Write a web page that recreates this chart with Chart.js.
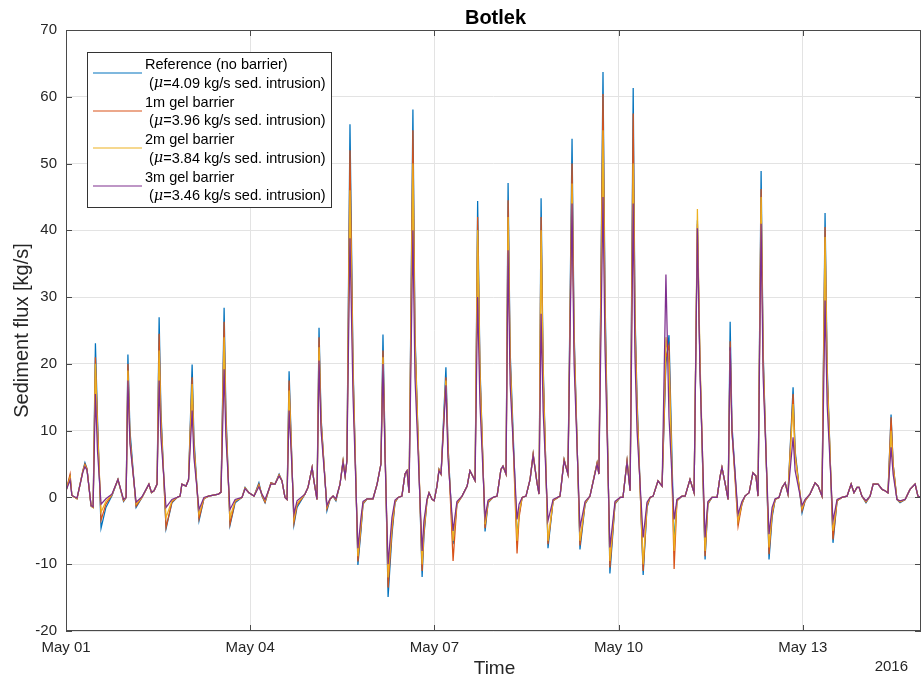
<!DOCTYPE html>
<html>
<head>
<meta charset="utf-8">
<title>Botlek</title>
<script src="https://cdn.jsdelivr.net/npm/chart.js@4/dist/chart.umd.min.js"></script>
<style>
  html, body { margin: 0; padding: 0; background: #ffffff; }
  #wrap { width: 922px; height: 682px; }
</style>
</head>
<body>
<div id="wrap"><canvas id="chart" width="922" height="682"></canvas></div>
<script>
// Time in hours since 2016-05-01 00:00
const hours = [
  0, 1.6, 2.3, 4.3, 6.6, 7.4, 8.2, 9.8, 10.6,
  11.5, 12.3, 13.7, 15.6, 18.0, 20.3, 22.5, 23.5,
  24.2, 25.0, 27.4, 29.7, 32.4, 33.4, 34.4, 35.6,
  36.4, 37.1, 39.1, 41.4, 43.4, 44.6, 45.3, 46.9, 47.9,
  49.3, 50.0, 52.0, 53.9, 55.7, 59.6, 60.6,
  61.8, 62.5, 64.1, 66.1, 68.8, 70.0, 71.5, 73.5, 75.4, 76.6, 77.8, 80.1, 81.7, 83.3, 84.4, 85.6, 86.4,
  87.2, 88.0, 89.1, 90.3, 93.4, 94.6, 96.2, 96.9, 98.1,
  98.9, 99.7, 102.0, 103.2, 104.4, 105.5, 107.1, 108.3, 109.1, 109.8,
  111.0, 112.2, 114.1, 115.3, 116.1, 117.7, 120.0, 121.6, 123.1,
  123.9, 124.7, 125.9, 127.4, 128.6, 129.8, 131.3, 132.5, 133.3, 134.1,
  135.6, 136.4, 139.2, 139.9, 141.1, 141.9, 143.1, 143.9, 145.0, 145.8, 146.6,
  148.5, 149.3, 151.3, 152.8, 154.8, 156.8, 157.9, 159.9,
  160.9, 161.8, 163.8, 165.0, 166.9, 168.5, 170.0, 170.8, 172.0,
  172.8, 173.6, 176.3, 177.1, 178.3, 179.8, 181.4, 182.6, 184.1, 184.9,
  185.7, 186.5, 188.4, 190.4, 193.1, 194.7, 196.2,
  197.8, 198.6, 200.9, 202.9, 204.8, 207.6, 208.3,
  209.9, 210.7, 212.6, 214.6, 216.6, 217.7, 219.3, 220.5,
  221.7, 222.4, 223.2, 225.6, 227.1, 228.3, 229.5, 231.4, 233.0,
  234.5, 235.7, 237.7, 238.8, 240.8, 242.0, 243.9, 245.5,
  246.8, 247.8, 249.8, 250.9, 252.5, 254.5, 255.6, 256.4, 257.6, 258.8,
  259.6, 260.3, 262.7, 264.2, 265.4, 267.0, 268.5, 269.7, 270.5,
  271.7, 272.5, 274.8, 276.0, 277.2, 278.7, 279.9, 281.1, 282.2,
  284.2, 285.0, 287.7, 288.9, 290.8, 292.8, 294.0, 295.5,
  296.7, 297.5, 299.8, 301.4, 303.3, 305.3, 306.9, 308.0, 309.2, 310.0, 311.1, 312.7, 314.3, 315.5, 317.4, 319.0, 320.1, 321.3,
  322.5, 323.3, 324.8, 326.0, 328.0, 329.9, 331.9, 333.0, 334.2
];

// Sediment flux [kg/s], no barrier
const reference = [
  1.0, 3.2, 0.3, -0.2, 4.0, 5.2, 4.3, -1.3, -1.5,
  23.1, 12.0, -4.6, -1.5, 0.3, 2.7, -0.6, 0.0,
  21.4, 10.0, -1.5, 0.0, 2.0, 0.7, 1.0, 2.0,
  27.0, 13.0, -4.7, -0.8, 0.0, 0.2, 2.0, 1.7, 2.7,
  19.9, 9.0, -3.5, -0.2, 0.2, 0.5, 0.8,
  28.4, 13.0, -4.2, -0.8, 0.0, 1.5, 0.7, 0.2, 2.2, 0.2, -0.8, 2.2, 2.0, 3.5, 2.5, 0.0, -0.3,
  18.9, 9.0, -4.1, -1.5, 0.5, 1.5, 4.5, 2.5, -0.3,
  25.4, 12.0, -2.0, -0.3, 0.2, -0.5, 2.0, 5.5, 3.2, 5.5,
  55.9, 20.0, -10.1, -5.0, -1.0, -0.2, -0.2, 2.0, 5.0,
  24.4, 8.0, -14.9, -5.6, -0.8, 0.0, 0.2, 3.5, 4.0, 0.7,
  58.1, 25.0, -11.9, -5.8, -0.5, 0.7, -0.3, -0.5, 1.7, 4.2, 3.5,
  19.5, 8.0, -7.0, -1.0, 0.2, 1.7, 4.0, 2.5,
  44.4, 20.0, -5.1, -0.8, 0.0, 0.2, 4.2, 4.7, 3.5,
  47.1, 22.0, -6.2, -2.5, 0.0, 0.2, 2.7, 6.5, 2.2, 0.5,
  44.8, 20.0, -7.6, -0.5, 0.2, 5.7, 3.5,
  53.7, 25.0, -7.8, -1.0, 0.2, 5.2, 3.5,
  63.7, 30.0, -11.4, -1.0, 0.0, 0.0, 5.5, 1.0,
  61.3, 28.0, 15.0, -11.6, -1.5, 0.0, 0.2, 2.5, 1.7,
  20.0, 24.3, -6.9, -0.5, 0.2, 0.2, 2.7, 0.7,
  41.5, 20.0, -9.3, -1.0, 0.0, 0.0, 3.0, 4.5, 2.2, -0.3,
  26.3, 11.0, -3.6, -1.0, 0.2, 0.7, 3.7, 3.2, 0.2,
  48.9, 22.0, -9.3, -3.0, -0.3, 0.0, 1.5, 2.2, 0.5,
  16.5, 7.0, -2.3, -0.5, 0.5, 2.2, 1.7, 0.2,
  42.6, 20.0, -6.8, -0.5, 0.0, 0.2, 2.0, 0.7, 1.5, 1.5, 0.2, -0.8, 0.2, 2.0, 2.0, 1.2, 1.0, 0.7,
  12.4, 5.0, -0.3, -0.8, -0.3, 1.2, 2.0, 0.2, 0.0
];

// 1 m gel barrier
const gel1m = [
  1.0, 3.5, 0.3, -0.2, 4.0, 5.0, 4.3, -1.3, -1.5,
  21.0, 11.0, -3.4, -1.0, 0.4, 2.7, -0.5, 0.0,
  20.0, 9.0, -1.3, 0.0, 2.0, 0.7, 1.0, 2.0,
  24.5, 12.0, -4.5, -0.7, 0.0, 0.2, 2.0, 1.7, 2.7,
  18.0, 8.0, -3.2, -0.2, 0.2, 0.5, 0.8,
  26.3, 12.0, -4.0, -0.6, 0.0, 1.4, 0.7, 0.2, 2.0, 0.3, -0.7, 2.2, 2.0, 3.4, 2.5, 0.0, -0.3,
  17.5, 8.5, -3.8, -1.2, 0.5, 1.5, 4.5, 2.5, -0.3,
  24.0, 11.5, -1.7, -0.3, 0.2, -0.4, 2.0, 5.5, 3.2, 5.5,
  52.0, 19.0, -9.6, -4.5, -0.9, -0.2, -0.2, 2.0, 5.0,
  22.0, 7.5, -13.5, -5.0, -0.7, 0.0, 0.2, 3.5, 4.0, 0.7,
  55.0, 24.0, -11.0, -5.3, -0.5, 0.7, -0.3, -0.5, 1.7, 4.2, 3.5,
  18.0, 8.0, -9.5, -1.0, 0.2, 1.7, 4.0, 2.5,
  42.0, 19.0, -4.6, -0.7, 0.0, 0.2, 4.2, 4.7, 3.5,
  44.5, 21.0, -8.4, -3.0, 0.0, 0.2, 2.7, 6.5, 2.2, 0.5,
  42.0, 19.0, -7.0, -0.5, 0.2, 5.7, 3.5,
  50.0, 24.0, -7.2, -0.9, 0.2, 5.2, 3.5,
  60.4, 28.0, -10.5, -0.9, 0.0, 0.0, 5.5, 1.0,
  57.5, 27.0, 14.0, -11.0, -1.3, 0.0, 0.2, 2.5, 1.7,
  21.0, 22.8, -10.7, -0.5, 0.2, 0.2, 2.7, 0.7,
  41.0, 20.0, -8.8, -0.9, 0.0, 0.0, 3.0, 4.5, 2.2, -0.3,
  23.4, 10.0, -4.3, -1.0, 0.2, 0.7, 3.7, 3.2, 0.2,
  46.2, 21.0, -8.5, -2.6, -0.3, 0.0, 1.5, 2.2, 0.5,
  15.5, 6.5, -2.0, -0.5, 0.5, 2.2, 1.7, 0.2,
  40.5, 19.0, -6.3, -0.5, 0.0, 0.2, 2.0, 0.7, 1.5, 1.5, 0.2, -0.7, 0.2, 2.0, 2.0, 1.2, 1.0, 0.7,
  12.0, 5.0, -0.3, -0.7, -0.3, 1.2, 2.0, 0.2, 0.0
];

// 2 m gel barrier
const gel2m = [
  1.0, 3.0, 0.3, -0.2, 3.9, 4.8, 4.2, -1.2, -1.5,
  20.0, 10.0, -2.2, -0.6, 0.4, 2.7, -0.4, 0.0,
  19.0, 8.5, -1.0, 0.0, 2.0, 0.8, 1.0, 2.0,
  22.0, 11.0, -3.0, -0.5, 0.0, 0.2, 2.0, 1.7, 2.7,
  17.0, 7.5, -2.5, -0.1, 0.2, 0.5, 0.8,
  24.0, 11.0, -3.0, -0.5, 0.0, 1.4, 0.7, 0.2, 1.8, 0.4, -0.5, 2.0, 2.0, 3.3, 2.5, 0.0, -0.3,
  16.0, 8.0, -3.2, -0.9, 0.5, 1.5, 4.5, 2.5, -0.3,
  22.5, 11.0, -1.4, -0.2, 0.2, -0.3, 2.0, 5.4, 3.2, 5.5,
  46.0, 18.0, -8.8, -4.0, -0.8, -0.2, -0.2, 2.0, 5.0,
  21.0, 7.0, -12.0, -4.2, -0.6, 0.0, 0.2, 3.5, 4.0, 0.7,
  50.0, 23.0, -10.0, -4.6, -0.4, 0.7, -0.3, -0.5, 1.7, 4.1, 3.5,
  17.5, 7.0, -6.5, -0.8, 0.2, 1.7, 4.0, 2.5,
  40.0, 18.0, -4.0, -0.6, 0.0, 0.2, 4.2, 4.7, 3.5,
  42.0, 20.0, -6.5, -2.2, 0.0, 0.2, 2.7, 6.4, 2.2, 0.5,
  40.0, 18.0, -6.5, -0.4, 0.2, 5.6, 3.5,
  47.0, 23.0, -6.5, -0.8, 0.2, 5.1, 3.5,
  55.0, 26.0, -9.5, -0.8, 0.0, 0.0, 5.4, 1.0,
  50.0, 25.0, 13.0, -10.0, -1.0, 0.0, 0.2, 2.5, 1.7,
  24.0, 20.0, -8.0, -0.4, 0.2, 0.2, 2.7, 0.7,
  43.2, 21.0, -8.0, -0.8, 0.0, 0.0, 3.0, 4.5, 2.2, -0.3,
  22.0, 10.0, -3.5, -0.8, 0.2, 0.7, 3.7, 3.2, 0.2,
  45.0, 20.0, -7.5, -2.2, -0.3, 0.0, 1.5, 2.2, 0.5,
  14.0, 6.0, -1.6, -0.4, 0.5, 2.2, 1.7, 0.2,
  39.0, 18.0, -5.0, -0.4, 0.0, 0.2, 2.0, 0.7, 1.5, 1.5, 0.2, -0.6, 0.2, 2.0, 2.0, 1.2, 1.0, 0.7,
  10.0, 4.5, -0.3, -0.6, -0.3, 1.2, 2.0, 0.2, 0.0
];

// 3 m gel barrier
const gel3m = [
  1.0, 2.6, 0.3, -0.1, 3.8, 4.6, 4.1, -1.2, -1.4,
  15.5, 7.0, -1.0, -0.2, 0.5, 2.7, -0.3, 0.0,
  17.5, 8.0, -0.7, 0.1, 2.0, 0.8, 1.0, 2.0,
  17.5, 9.0, -1.5, -0.3, 0.0, 0.2, 2.0, 1.7, 2.6,
  13.0, 6.0, -1.8, 0.0, 0.2, 0.5, 0.8,
  19.2, 9.0, -1.8, -0.3, 0.0, 1.3, 0.7, 0.2, 1.6, 0.5, -0.3, 2.0, 2.0, 3.2, 2.5, 0.0, -0.3,
  13.0, 7.0, -2.5, -0.5, 0.5, 1.5, 4.5, 2.5, -0.3,
  20.5, 10.0, -1.2, -0.2, 0.2, -0.2, 2.0, 5.3, 3.2, 5.5,
  38.8, 15.0, -7.6, -3.0, -0.6, -0.2, -0.2, 2.0, 5.0,
  20.0, 6.0, -10.0, -3.0, -0.4, 0.0, 0.2, 3.5, 4.0, 0.7,
  40.0, 18.0, -8.0, -3.5, -0.3, 0.7, -0.3, -0.5, 1.7, 4.0, 3.5,
  16.8, 6.0, -5.0, -0.6, 0.2, 1.7, 4.0, 2.5,
  30.0, 14.0, -3.0, -0.4, 0.0, 0.2, 4.2, 4.7, 3.5,
  37.0, 17.0, -3.3, -1.0, 0.0, 0.2, 2.7, 6.3, 2.2, 0.5,
  27.5, 13.0, -3.5, -0.3, 0.2, 5.5, 3.5,
  44.0, 20.0, -4.5, -0.6, 0.2, 5.0, 3.5,
  45.0, 22.0, -7.5, -0.6, 0.0, 0.0, 5.3, 1.0,
  44.0, 21.0, 10.0, -6.0, -0.7, 0.0, 0.2, 2.5, 1.7,
  33.4, 12.0, -3.3, -0.3, 0.2, 0.2, 2.7, 0.7,
  40.3, 19.0, -6.0, -0.6, 0.0, 0.0, 3.0, 4.5, 2.2, -0.3,
  22.5, 10.0, -2.5, -0.6, 0.2, 0.7, 3.7, 3.2, 0.2,
  41.0, 18.0, -5.5, -1.5, -0.2, 0.0, 1.5, 2.2, 0.5,
  9.0, 4.0, -1.2, -0.3, 0.5, 2.2, 1.7, 0.2,
  29.5, 14.0, -3.5, -0.3, 0.0, 0.2, 2.0, 0.7, 1.5, 1.5, 0.2, -0.5, 0.2, 2.0, 2.0, 1.2, 1.0, 0.7,
  7.5, 3.5, -0.3, -0.5, -0.3, 1.2, 2.0, 0.2, 0.0
];

const seriesNames = ['Reference (no barrier)', '1m gel barrier', '2m gel barrier', '3m gel barrier'];
const seriesMeans = ['4.09', '3.96', '3.84', '3.46'];
const seriesColors = ['#0072BD', '#D95319', '#EDB120', '#7E2F8E'];

const tickHours = [0, 72, 144, 216, 288];
const tickLabels = ['May 01', 'May 04', 'May 07', 'May 10', 'May 13'];
const yearLabel = '2016';
const yTicks = [-20, -10, 0, 10, 20, 30, 40, 50, 60, 70];

const FONT = '"Liberation Sans", Arial, Helvetica, sans-serif';
const allSeries = [reference, gel1m, gel2m, gel3m];

const datasets = allSeries.map((vals, i) => ({
  label: seriesNames[i],
  data: hours.map((h, k) => ({ x: h, y: vals[k] })),
  borderColor: seriesColors[i],
  borderWidth: 1.25,
  pointRadius: 0,
  tension: 0,
  fill: false,
  order: 4 - i
}));

// Box around the axes, inward tick marks, titles and the legend block
const decorations = {
  id: 'decorations',
  afterDatasetsDraw(chart) {
    const { ctx, chartArea: a, scales: { x, y } } = chart;
    ctx.save();
    ctx.strokeStyle = '#4a4a4a';
    ctx.lineWidth = 1;
    ctx.strokeRect(a.left + 0.5, a.top + 0.5, a.right - a.left - 1, a.bottom - a.top - 1);
    const len = 6;
    ctx.beginPath();
    x.ticks.forEach(t => {
      const px = Math.round(x.getPixelForValue(t.value)) + 0.5;
      ctx.moveTo(px, a.bottom); ctx.lineTo(px, a.bottom - len);
      ctx.moveTo(px, a.top); ctx.lineTo(px, a.top + len);
    });
    y.ticks.forEach(t => {
      const py = Math.round(y.getPixelForValue(t.value)) + 0.5;
      ctx.moveTo(a.left, py); ctx.lineTo(a.left + len, py);
      ctx.moveTo(a.right, py); ctx.lineTo(a.right - len, py);
    });
    ctx.stroke();
    ctx.restore();
  },
  afterDraw(chart) {
    const { ctx, chartArea: a } = chart;
    const cx = (a.left + a.right) / 2;
    ctx.save();
    ctx.fillStyle = '#000000';
    ctx.textAlign = 'center';
    ctx.textBaseline = 'middle';
    ctx.font = 'bold 20px ' + FONT;
    ctx.fillText('Botlek', cx + 2, 18);

    ctx.fillStyle = '#262626';
    ctx.font = '19px ' + FONT;
    ctx.fillText('Time', cx + 1, 669);

    ctx.textAlign = 'right';
    ctx.font = '15px ' + FONT;
    ctx.fillText(yearLabel, 908, 667);

    ctx.save();
    ctx.translate(22, (a.top + a.bottom) / 2);
    ctx.rotate(-Math.PI / 2);
    ctx.textAlign = 'center';
    ctx.font = '20px ' + FONT;
    ctx.fillText('Sediment flux [kg/s]', 0, 0);
    ctx.restore();

    // legend
    const lx = 87, ly = 52, lw = 244, lh = 155;
    ctx.fillStyle = '#ffffff';
    ctx.fillRect(lx, ly, lw, lh);
    ctx.strokeStyle = '#333333';
    ctx.lineWidth = 1;
    ctx.strokeRect(lx + 0.5, ly + 0.5, lw, lh);
    ctx.textAlign = 'left';
    ctx.textBaseline = 'middle';
    seriesNames.forEach((name, i) => {
      const rowTop = 65 + i * 37.6;
      const lineY = Math.round(rowTop + 8);
      ctx.strokeStyle = seriesColors[i];
      ctx.lineWidth = 1.2;
      ctx.beginPath();
      ctx.moveTo(93, lineY);
      ctx.lineTo(142, lineY);
      ctx.stroke();
      ctx.fillStyle = '#000000';
      ctx.font = '14.5px ' + FONT;
      ctx.fillText(name, 145, rowTop);
      const y2 = rowTop + 18.5;
      let tx = 149;
      ctx.fillText('(', tx, y2);
      tx += ctx.measureText('(').width;
      ctx.font = 'italic 14.5px "DejaVu Serif", "Liberation Serif", serif';
      ctx.fillText('\u03BC', tx, y2);
      tx += ctx.measureText('\u03BC').width;
      ctx.font = '14.5px ' + FONT;
      ctx.fillText('=' + seriesMeans[i] + ' kg/s sed. intrusion)', tx, y2);
    });
    ctx.restore();
  }
};

new Chart(document.getElementById('chart'), {
  type: 'line',
  data: { datasets },
  plugins: [decorations],
  options: {
    responsive: false,
    animation: false,
    devicePixelRatio: 1,
    layout: { padding: { top: 30, right: 1, left: 0, bottom: 0 } },
    plugins: { legend: { display: false }, tooltip: { enabled: false }, title: { display: false } },
    scales: {
      x: {
        type: 'linear',
        min: 0,
        max: 334.2,
        afterBuildTicks: s => { s.ticks = tickHours.map(v => ({ value: v })); },
        afterFit: s => { s.height = 51; },
        ticks: {
          autoSkip: false,
          maxRotation: 0,
          padding: 8,
          color: '#262626',
          font: { family: FONT, size: 15 },
          callback: v => tickLabels[tickHours.indexOf(v)]
        },
        grid: { color: '#e3e3e3', drawTicks: false },
        border: { display: false }
      },
      y: {
        min: -20,
        max: 70,
        afterBuildTicks: s => { s.ticks = yTicks.map(v => ({ value: v })); },
        afterFit: s => { s.width = 66; },
        ticks: {
          padding: 9,
          color: '#262626',
          font: { family: FONT, size: 15 }
        },
        grid: { color: '#e3e3e3', drawTicks: false },
        border: { display: false }
      }
    }
  }
});
</script>
</body>
</html>
